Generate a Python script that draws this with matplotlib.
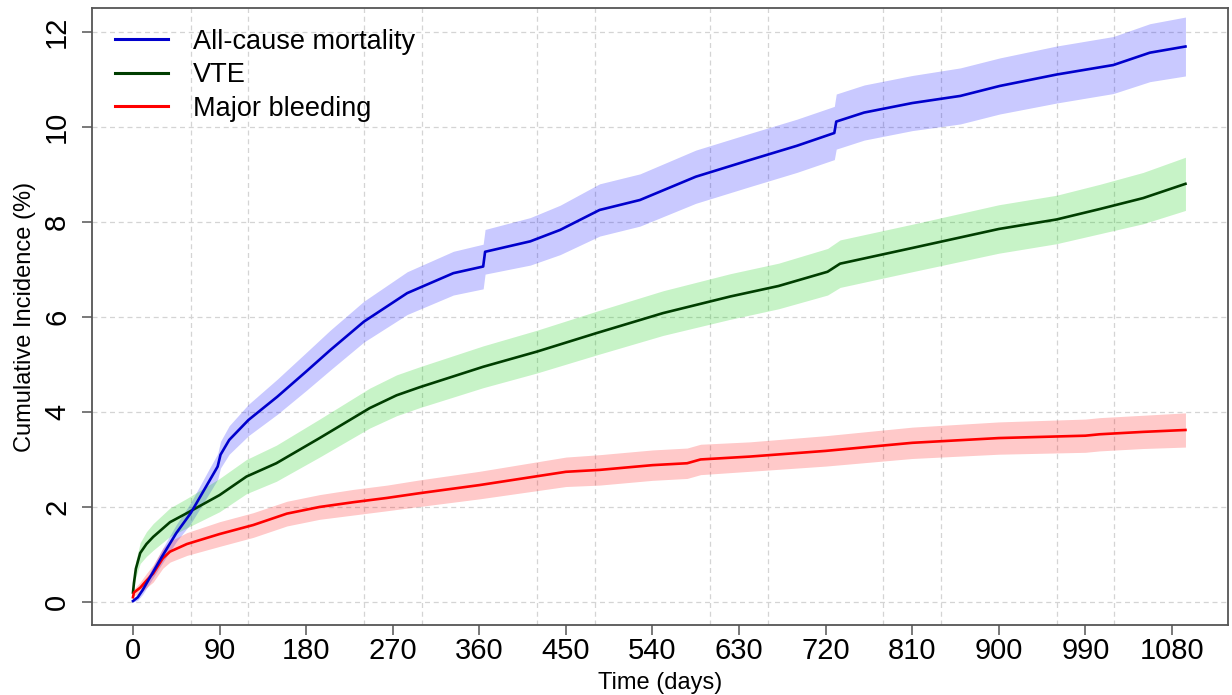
import matplotlib
matplotlib.use("Agg")
import matplotlib.pyplot as plt
from matplotlib.ticker import MultipleLocator

plt.rcParams['font.family'] = ['Liberation Sans', 'DejaVu Sans']

# ---------------- data ----------------
mort_day = [0, 5, 10, 20, 30, 45, 60, 70, 80, 88, 91, 100, 120, 150, 180, 205, 240, 285, 333, 364,
            366, 413, 444, 485, 527, 585, 641, 690, 729, 731, 760, 810, 860, 901, 960, 1019, 1057, 1094]
mort = [0.02, 0.1, 0.25, 0.6, 0.95, 1.45, 1.87, 2.22, 2.57, 2.85, 3.1, 3.41, 3.83, 4.32, 4.85, 5.3, 5.9,
        6.5, 6.92, 7.06, 7.37, 7.59, 7.83, 8.25, 8.46, 8.95, 9.3, 9.6, 9.87, 10.11, 10.3, 10.5, 10.65,
        10.86, 11.1, 11.3, 11.56, 11.69]
mort_lo = [0.00, 0.04, 0.16, 0.48, 0.80, 1.27, 1.65, 1.98, 2.31, 2.58, 2.82, 3.11, 3.50, 3.95, 4.45, 4.88,
           5.47, 6.05, 6.46, 6.59, 6.90, 7.09, 7.31, 7.70, 7.91, 8.39, 8.74, 9.04, 9.31, 9.53, 9.72, 9.92,
           10.06, 10.27, 10.50, 10.70, 10.95, 11.07]
mort_hi = [0.04, 0.16, 0.34, 0.72, 1.10, 1.63, 2.09, 2.46, 2.83, 3.12, 3.38, 3.71, 4.16, 4.69, 5.25, 5.72,
           6.33, 6.95, 7.38, 7.53, 7.84, 8.09, 8.35, 8.80, 9.01, 9.51, 9.86, 10.16, 10.43, 10.69, 10.88,
           11.08, 11.24, 11.45, 11.70, 11.90, 12.17, 12.31]

vte_day = [0, 1, 3, 7.5, 14, 21, 38.5, 56, 73, 90, 118, 149, 194, 246, 274, 298, 364, 420, 482, 551, 621,
           671, 722, 735, 810, 900, 960, 1005, 1050, 1094]
vte = [0.2, 0.4, 0.7, 1.03, 1.22, 1.37, 1.68, 1.87, 2.06, 2.25, 2.64, 2.92, 3.45, 4.08, 4.35, 4.52, 4.95,
       5.27, 5.66, 6.08, 6.43, 6.65, 6.95, 7.12, 7.45, 7.85, 8.05, 8.27, 8.5, 8.80]
vte_lo = [0.15, 0.30, 0.53, 0.81, 0.96, 1.09, 1.38, 1.56, 1.73, 1.90, 2.28, 2.54, 3.05, 3.66, 3.92, 4.09,
          4.51, 4.82, 5.20, 5.61, 5.95, 6.17, 6.46, 6.62, 6.95, 7.34, 7.54, 7.75, 7.96, 8.24]
vte_hi = [0.25, 0.50, 0.87, 1.25, 1.48, 1.65, 1.98, 2.18, 2.39, 2.60, 3.00, 3.30, 3.85, 4.50, 4.78, 4.95,
          5.39, 5.72, 6.12, 6.55, 6.91, 7.13, 7.44, 7.62, 7.95, 8.36, 8.56, 8.79, 9.04, 9.36]

bleed_day = [0, 1, 7.5, 14, 21, 31, 38.5, 56, 90, 125, 160, 194, 229, 264, 298, 360, 450, 485, 540, 576,
             590, 641, 720, 810, 900, 990, 1005, 1050, 1094]
bleed = [0.1, 0.2, 0.3, 0.45, 0.6, 0.92, 1.06, 1.22, 1.43, 1.62, 1.86, 2.0, 2.1, 2.19, 2.29, 2.46, 2.74,
         2.78, 2.88, 2.92, 3.0, 3.06, 3.18, 3.35, 3.45, 3.50, 3.53, 3.58, 3.62]
bleed_lo = [0.05, 0.13, 0.18, 0.30, 0.42, 0.71, 0.84, 0.98, 1.17, 1.36, 1.60, 1.74, 1.83, 1.92, 2.01,
            2.17, 2.43, 2.46, 2.56, 2.60, 2.68, 2.75, 2.86, 3.02, 3.11, 3.15, 3.18, 3.23, 3.26]
bleed_hi = [0.15, 0.27, 0.42, 0.60, 0.78, 1.13, 1.28, 1.46, 1.69, 1.88, 2.12, 2.26, 2.37, 2.46, 2.57,
            2.75, 3.05, 3.10, 3.20, 3.24, 3.32, 3.37, 3.50, 3.68, 3.79, 3.85, 3.88, 3.93, 3.98]

labels = ["All-cause mortality", "VTE", "Major bleeding"]
x_ticks = [0, 90, 180, 270, 360, 450, 540, 630, 720, 810, 900, 990, 1080]
y_ticks = [0, 2, 4, 6, 8, 10, 12]

# ---------------- figure ----------------
fig = plt.figure(figsize=(12.32, 6.95), dpi=100)
ax = fig.add_axes([92 / 1232, 1 - 625 / 695, (1227.5 - 92) / 1232, (625 - 8.3) / 695])

ax.fill_between(mort_day, mort_lo, mort_hi, color=(0, 0, 1), alpha=0.21, linewidth=0, zorder=2)
ax.fill_between(vte_day, vte_lo, vte_hi, color=(0, 0.8, 0), alpha=0.22, linewidth=0, zorder=2)
ax.fill_between(bleed_day, bleed_lo, bleed_hi, color=(1, 0, 0), alpha=0.21, linewidth=0, zorder=2)

l_vte, = ax.plot(vte_day, vte, color='#003d00', lw=1.9, zorder=4)
l_bl, = ax.plot(bleed_day, bleed, color='#ff0000', lw=1.9, zorder=4)
l_mo, = ax.plot(mort_day, mort, color='#0000cc', lw=1.9, zorder=5)

ax.set_xlim(-42.6, 1137.7)
ax.set_ylim(-0.484, 12.494)
ax.set_xticks(x_ticks)
ax.set_yticks(y_ticks)
ax.xaxis.set_minor_locator(MultipleLocator(60))
ax.tick_params(axis='x', which='minor', length=0)
ax.tick_params(axis='both', which='major', labelsize=21, length=7, width=1.1,
               color='#555555', direction='out')
ax.tick_params(axis='x', which='major', pad=1.5)
ax.tick_params(axis='y', which='major', pad=8)
for lab in ax.get_yticklabels():
    lab.set_rotation(90)
    lab.set_va('center')

ax.grid(True, axis='x', which='minor', color='#d4d4d4', lw=0.9, linestyle=(0, (4, 3)), zorder=0)
ax.grid(True, axis='y', which='major', color='#d4d4d4', lw=0.9, linestyle=(0, (4, 3)), zorder=0)
ax.grid(False, axis='x', which='major')
ax.set_axisbelow(True)

for s in ax.spines.values():
    s.set_color('#555555')
    s.set_linewidth(1.3)

ax.set_xlabel("Time (days)", fontsize=17, labelpad=5)
ax.set_ylabel("Cumulative Incidence (%)", fontsize=17, labelpad=5)

leg = ax.legend([l_mo, l_vte, l_bl], labels, loc='upper left', bbox_to_anchor=(0.02, 0.967),
                frameon=False, fontsize=19.5, handlelength=1.95, handletextpad=0.95,
                labelspacing=0.275, borderpad=0, borderaxespad=0)
for h in leg.get_lines():
    h.set_linewidth(2.2)

fig.savefig("out.png", dpi=100)
